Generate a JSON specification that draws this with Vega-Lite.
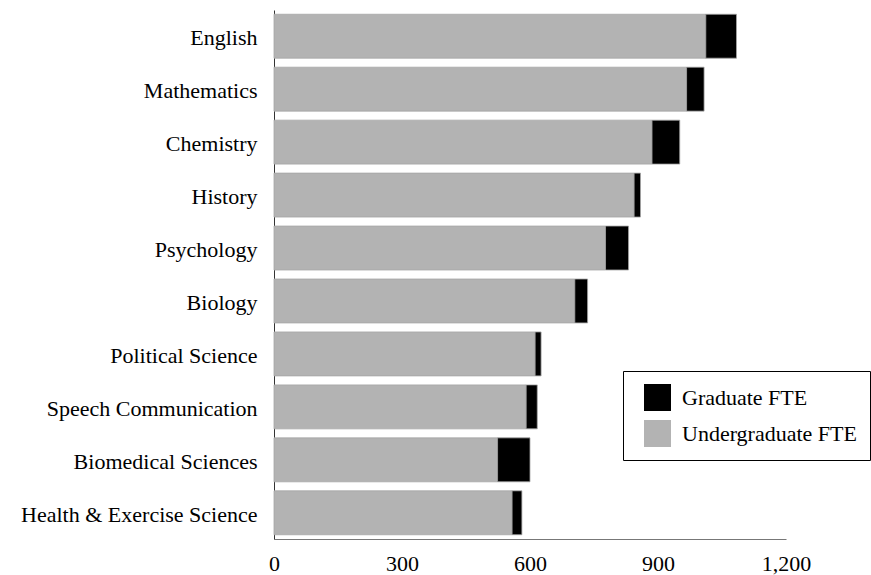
{
  "$schema": "https://vega.github.io/schema/vega-lite/v6.json",
  "width": 512,
  "height": 529,
  "autosize": {"type": "none"},
  "padding": {"left": 274, "top": 10, "right": 85, "bottom": 36},
  "background": "white",
  "config": {
    "font": "Liberation Serif",
    "view": {"stroke": null},
    "axis": {"labelFont": "Liberation Serif", "labelColor": "#000", "labelFontSize": 22, "title": null, "grid": false, "ticks": false}
  },
  "data": {
    "values": [
      {"dept": "English", "type": "Undergraduate FTE", "fte": 1012},
      {"dept": "English", "type": "Graduate FTE", "fte": 72},
      {"dept": "Mathematics", "type": "Undergraduate FTE", "fte": 967},
      {"dept": "Mathematics", "type": "Graduate FTE", "fte": 41},
      {"dept": "Chemistry", "type": "Undergraduate FTE", "fte": 886},
      {"dept": "Chemistry", "type": "Graduate FTE", "fte": 65},
      {"dept": "History", "type": "Undergraduate FTE", "fte": 844},
      {"dept": "History", "type": "Graduate FTE", "fte": 15},
      {"dept": "Psychology", "type": "Undergraduate FTE", "fte": 777},
      {"dept": "Psychology", "type": "Graduate FTE", "fte": 54},
      {"dept": "Biology", "type": "Undergraduate FTE", "fte": 705},
      {"dept": "Biology", "type": "Graduate FTE", "fte": 30},
      {"dept": "Political Science", "type": "Undergraduate FTE", "fte": 612},
      {"dept": "Political Science", "type": "Graduate FTE", "fte": 14},
      {"dept": "Speech Communication", "type": "Undergraduate FTE", "fte": 591},
      {"dept": "Speech Communication", "type": "Graduate FTE", "fte": 26},
      {"dept": "Biomedical Sciences", "type": "Undergraduate FTE", "fte": 524},
      {"dept": "Biomedical Sciences", "type": "Graduate FTE", "fte": 76},
      {"dept": "Health & Exercise Science", "type": "Undergraduate FTE", "fte": 558},
      {"dept": "Health & Exercise Science", "type": "Graduate FTE", "fte": 23}
    ]
  },
  "mark": {"type": "bar", "stroke": "#a6a6a6", "strokeWidth": 0.8},
  "encoding": {
    "y": {
      "field": "dept",
      "type": "nominal",
      "sort": ["English", "Mathematics", "Chemistry", "History", "Psychology", "Biology", "Political Science", "Speech Communication", "Biomedical Sciences", "Health & Exercise Science"],
      "scale": {"paddingInner": 0.17, "paddingOuter": 0.08},
      "axis": {"labelPadding": 17, "labelOffset": 2, "domainColor": "#333", "domainWidth": 1, "labelLimit": 300}
    },
    "x": {
      "field": "fte",
      "type": "quantitative",
      "stack": "zero",
      "scale": {"domain": [0, 1200], "nice": false},
      "axis": {"values": [0, 300, 600, 900, 1200], "format": ",d", "labelPadding": 14, "domainColor": "#777", "domainWidth": 1.2, "labelFlush": false}
    },
    "color": {
      "field": "type",
      "type": "nominal",
      "scale": {"domain": ["Graduate FTE", "Undergraduate FTE"], "range": ["#000000", "#b3b3b3"]},
      "legend": {
        "title": null,
        "orient": "none",
        "legendX": 349,
        "legendY": 361,
        "padding": 13,
        "symbolOffset": 8,
        "strokeColor": "#000",
        "fillColor": "#fff",
        "symbolType": "square",
        "symbolSize": 729,
        "symbolStrokeWidth": 0,
        "labelFontSize": 22,
        "labelFont": "Liberation Serif",
        "labelColor": "#000",
        "labelOffset": 11,
        "rowPadding": 9,
        "labelLimit": 300
      }
    },
    "order": {"field": "type", "sort": "descending"}
  }
}
